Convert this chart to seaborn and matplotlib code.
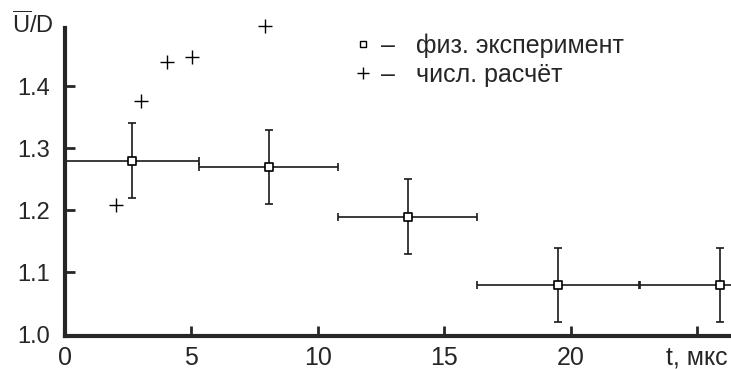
import matplotlib
matplotlib.use("Agg")
import matplotlib.pyplot as plt
import seaborn as sns
import pandas as pd
from matplotlib.lines import Line2D

# physical experiment (squares with error bars)
t_exp = [2.65, 8.05, 13.55, 19.5, 25.9]
u_exp = [1.28, 1.27, 1.19, 1.08, 1.08]
t_err = [2.65, 2.75, 2.75, 3.2, 3.15]
u_err = [0.06, 0.06, 0.06, 0.06, 0.06]

# numerical calculation (pluses)
t_num = [2.03, 3.0, 4.05, 5.03, 7.92]
u_num = [1.208, 1.376, 1.439, 1.447, 1.496]

x_ticks = [0, 5, 10, 15, 20, 25]
x_ticklabels = ["0", "5", "10", "15", "20", "t, мкс"]
y_ticks = [1.0, 1.1, 1.2, 1.3, 1.4]

exp = pd.DataFrame({"t": t_exp, "u": u_exp})
num = pd.DataFrame({"t": t_num, "u": u_num})

sns.set_style("ticks")
plt.rcParams["font.family"] = ["Liberation Sans", "DejaVu Sans"]
plt.rcParams["mathtext.fontset"] = "custom"
plt.rcParams["mathtext.rm"] = "Liberation Sans"

fig = plt.figure(figsize=(7.31, 3.69), dpi=100)
ax = fig.add_axes([0.089, 0.09, 0.911, 0.835])

ax.errorbar(t_exp, u_exp, xerr=t_err, yerr=u_err, fmt="none",
            ecolor="#1a1a1a", elinewidth=1.2, capsize=3, capthick=1.2,
            clip_on=True, zorder=2)
sns.scatterplot(data=exp, x="t", y="u", marker="s", s=36, color="white",
                edgecolor="black", linewidth=1.2, zorder=3, ax=ax, clip_on=False)
sns.scatterplot(data=num, x="t", y="u", marker="+", s=90, color="black",
                linewidth=1.0, zorder=3, ax=ax, clip_on=False)

ax.set_xlim(0, 26.35)
ax.set_ylim(0.998, 1.494)
ax.set_xticks(x_ticks)
ax.set_xticklabels(x_ticklabels)
ax.set_yticks(y_ticks)
ax.set_yticklabels([f"{v:.1f}" for v in y_ticks])
ax.set_xlabel("")
ax.set_ylabel("")

sns.despine(ax=ax)
for side in ["left", "bottom"]:
    ax.spines[side].set_linewidth(3)
ax.tick_params(direction="in", length=7, width=2, labelsize=17)
ax.tick_params(axis="x", pad=7, labelsize=18)
ax.tick_params(axis="y", pad=11)

fig.text(0.017, 0.91, r"$\overline{\mathrm{U}}$/D", fontsize=17)

handles = [
    Line2D([], [], marker="s", markersize=5, markerfacecolor="white",
           markeredgecolor="black", markeredgewidth=1.0, linestyle="none"),
    Line2D([], [], marker="+", markersize=8, color="black", linestyle="none"),
]
labels = ["–   физ. эксперимент", "–   числ. расчёт"]
fig.legend(handles, labels, loc="upper left", bbox_to_anchor=(0.4836, 0.91),
           frameon=False, fontsize=18, handlelength=0.75, handletextpad=0.35,
           labelspacing=0.2, borderpad=0, borderaxespad=0)

fig.savefig("out.png", dpi=100)
